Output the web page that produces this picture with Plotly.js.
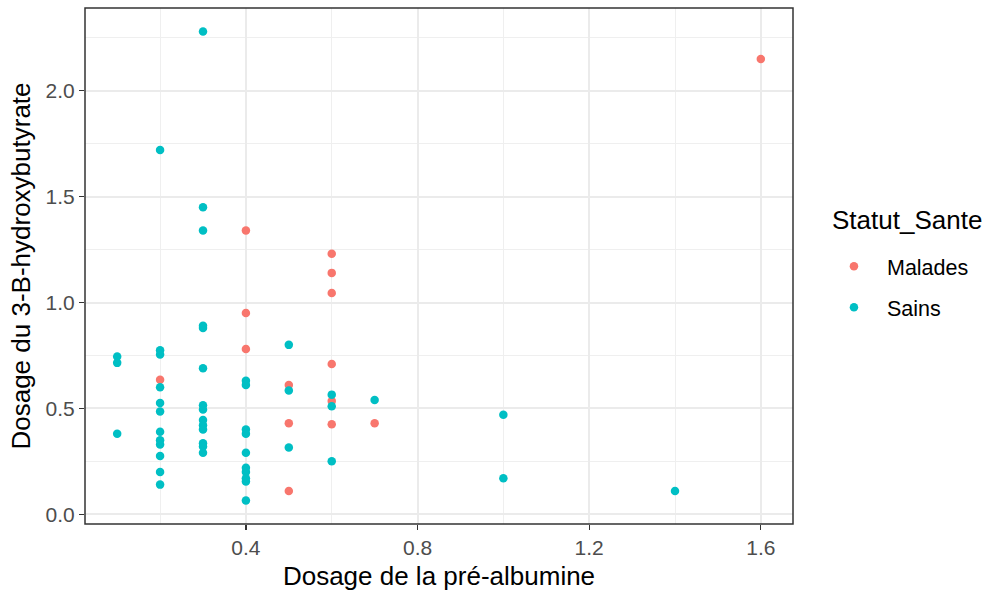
<!DOCTYPE html>
<html>
<head>
<meta charset="utf-8">
<script src="https://cdn.plot.ly/plotly-3.0.1.min.js"></script>
<style>html,body{margin:0;padding:0;background:#fff;}#chart{width:988px;height:595px;}</style>
</head>
<body>
<div id="chart"></div>
<script>
// Malades (diseased)
const maladesX = [0.2, 0.4, 0.4, 0.4, 0.5, 0.5, 0.5, 0.6, 0.6, 0.6, 0.6, 0.6, 0.6, 0.7, 1.6];
const maladesY = [0.635, 1.34, 0.95, 0.78, 0.61, 0.43, 0.11, 1.23, 1.14, 1.045, 0.71, 0.535, 0.425, 0.43, 2.15];
// Sains (healthy)
const sainsX = [
  0.1, 0.1, 0.1,
  0.2, 0.2, 0.2, 0.2, 0.2, 0.2, 0.2, 0.2, 0.2, 0.2, 0.2, 0.2,
  0.3, 0.3, 0.3, 0.3, 0.3, 0.3, 0.3, 0.3, 0.3, 0.3, 0.3, 0.3, 0.3, 0.3,
  0.4, 0.4, 0.4, 0.4, 0.4, 0.4, 0.4, 0.4, 0.4, 0.4,
  0.5, 0.5, 0.5,
  0.6, 0.6, 0.6,
  0.7,
  1.0, 1.0,
  1.4
];
const sainsY = [
  0.745, 0.715, 0.38,
  1.72, 0.775, 0.755, 0.60, 0.525, 0.485, 0.39, 0.35, 0.33, 0.275, 0.20, 0.14,
  2.28, 1.45, 1.34, 0.89, 0.88, 0.69, 0.515, 0.495, 0.445, 0.42, 0.40, 0.335, 0.32, 0.29,
  0.63, 0.61, 0.40, 0.38, 0.29, 0.22, 0.20, 0.17, 0.155, 0.065,
  0.80, 0.585, 0.315,
  0.565, 0.51, 0.25,
  0.54,
  0.47, 0.17,
  0.11
];
const xTickVals = [0.4, 0.8, 1.2, 1.6];
const xTickText = ["0.4", "0.8", "1.2", "1.6"];
const xMinorVals = [0.2, 0.6, 1.0, 1.4];
const yTickVals = [0, 0.5, 1.0, 1.5, 2.0];
const yTickText = ["0.0", "0.5", "1.0", "1.5", "2.0"];
const yMinorVals = [0.25, 0.75, 1.25, 1.75, 2.25];
const legendTitle = "Statut_Sante";

const FONT = "Liberation Sans, Arial, sans-serif";
const traces = [
  {x: maladesX, y: maladesY, name: "Malades", type: "scatter", mode: "markers",
   legendgroup: "a",
   marker: {color: "#F8766D", size: 8.5, line: {width: 0}}},
  {x: sainsX, y: sainsY, name: "Sains", type: "scatter", mode: "markers",
   legendgroup: "b",
   marker: {color: "#00BFC4", size: 8.5, line: {width: 0}}}
];
const axisCommon = {
  showgrid: true, gridcolor: "#EBEBEB", gridwidth: 2,
  zeroline: false, showline: false,
  ticks: "outside", ticklen: 5, tickwidth: 1.3, tickcolor: "#333333",
  tickfont: {family: FONT, size: 21, color: "#4D4D4D"}
};
const layout = {
  width: 988, height: 595,
  margin: {l: 85, r: 195, t: 8, b: 71},
  paper_bgcolor: "#ffffff", plot_bgcolor: "#ffffff",
  font: {family: FONT},
  xaxis: Object.assign({}, axisCommon, {
    range: [0.025, 1.675],
    tickmode: "array", tickvals: xTickVals, ticktext: xTickText,
    minor: {tickmode: "array", tickvals: xMinorVals, showgrid: true, gridcolor: "#EFEFEF", gridwidth: 1, ticks: ""},
    title: {text: "Dosage de la pré-albumine", font: {family: FONT, size: 26, color: "#000"}, standoff: 8}
  }),
  yaxis: Object.assign({}, axisCommon, {
    range: [-0.046, 2.391],
    tickmode: "array", tickvals: yTickVals, ticktext: yTickText,
    minor: {tickmode: "array", tickvals: yMinorVals, showgrid: true, gridcolor: "#EFEFEF", gridwidth: 1, ticks: ""},
    title: {text: "Dosage du 3-B-hydroxybutyrate", font: {family: FONT, size: 26, color: "#000"}, standoff: 7}
  }),
  shapes: [{type: "rect", xref: "paper", yref: "paper", x0: 0, x1: 1, y0: 0, y1: 1,
            line: {color: "#333333", width: 1.5}, fillcolor: "rgba(0,0,0,0)", layer: "above"}],
  annotations: [{
    text: legendTitle, xref: "paper", yref: "paper", x: 1.0523, y: 0.589,
    xanchor: "left", yanchor: "middle", showarrow: false,
    font: {family: FONT, size: 26, color: "#000"}
  }],
  showlegend: true,
  legend: {
    x: 1.0395, y: 0.539, xanchor: "left", yanchor: "top",
    traceorder: "grouped", tracegroupgap: 10,
    font: {family: FONT, size: 21.5, color: "#000"},
    bgcolor: "rgba(0,0,0,0)", borderwidth: 0, itemwidth: 56
  }
};
Plotly.newPlot("chart", traces, layout, {displayModeBar: false, staticPlot: true});
</script>
</body>
</html>
